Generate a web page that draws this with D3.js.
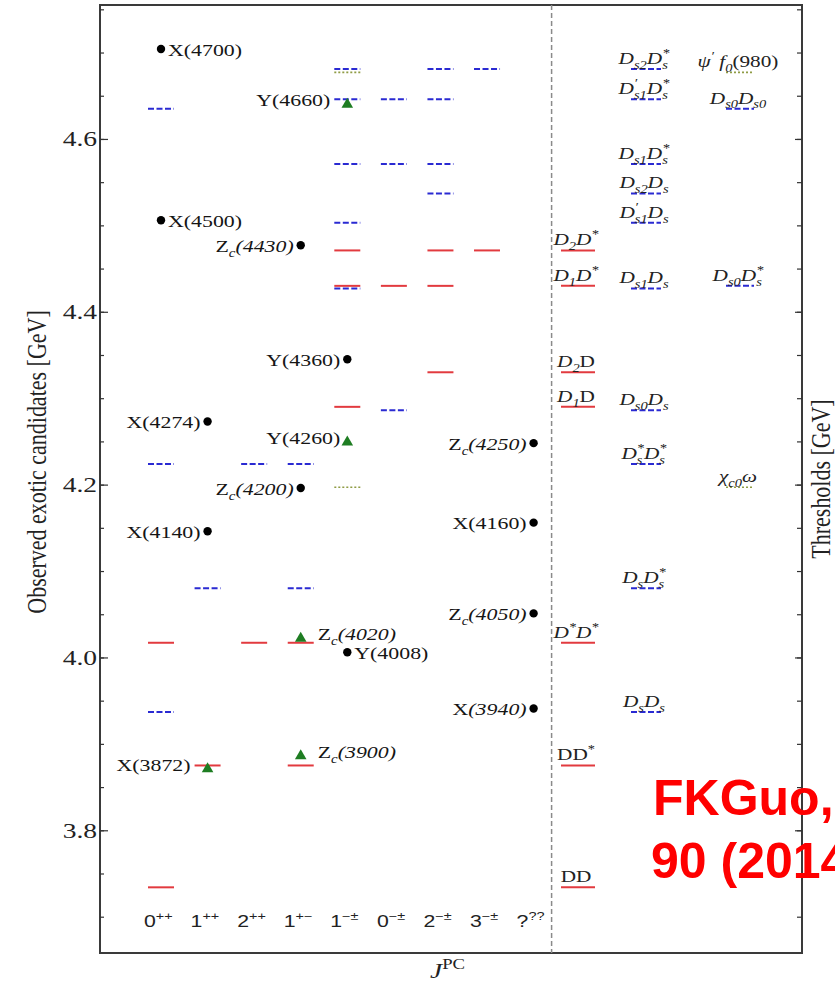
<!DOCTYPE html>
<html>
<head>
<meta charset="utf-8">
<script src="https://cdn.jsdelivr.net/npm/d3@7"></script>
<style>
  html, body { margin: 0; padding: 0; background: #fff; overflow: hidden; }
  svg { display: block; }
</style>
</head>
<body>
<svg id="chart" width="835" height="982"></svg>
<script>
// ---------- data ----------
// J^PC columns of the left panel
const jpcLabels = ["0^{++}", "1^{++}", "2^{++}", "1^{+−}", "1^{−±}", "0^{−±}", "2^{−±}", "3^{−±}", "?^{??}"];

// y axis ticks (GeV)
const yTickValues = [3.8, 4.0, 4.2, 4.4, 4.6];
const yTickLabels = ["3.8", "4.0", "4.2", "4.4", "4.6"];

// two-body thresholds
const thresholdNames = ["DD", "DD*", "DsDs", "D*D*", "DsDs*", "Ds*Ds*", "chic0w", "Ds0Ds", "D1D", "D2D",
  "Ds1Ds", "D1D*", "Ds0Ds*", "D2D*", "Ds1'Ds", "Ds2Ds", "Ds1Ds*", "Ds0Ds0", "Ds1'Ds*", "psi'f0", "Ds2Ds*"];
const thresholdMasses = [3.734, 3.875, 3.937, 4.017, 4.080, 4.224, 4.197, 4.286, 4.290, 4.330,
  4.427, 4.430, 4.430, 4.471, 4.503, 4.537, 4.571, 4.635, 4.646, 4.677, 4.681];
// markup: "/" toggles italic, _{..} subscript, ^{..} superscript
const thresholdLabels = ["DD", "DD^{*}", "/D_{s}D_{s}", "/D^{*}D^{*}", "/D_{s}D_{s}^{*}", "/D_{s}^{*}D_{s}^{*}", "/χ_{c0}ω",
  "/D_{s0}D_{s}", "/D_{1}/D", "/D_{2}/D", "/D_{s1}D_{s}", "/D_{1}D^{*}", "/D_{s0}D_{s}^{*}", "/D_{2}D^{*}",
  "/D^{′}_{s1}D_{s}", "/D_{s2}D_{s}", "/D_{s1}D_{s}^{*}", "/D_{s0}D_{s0}", "/D^{′}_{s1}D_{s}^{*}", "/ψ^{′} f_{0}/(980)", "/D_{s2}D_{s}^{*}"];
const thresholdKinds = ["D", "D", "Ds", "D", "Ds", "Ds", "X", "Ds", "D", "D",
  "Ds", "D", "Ds", "D", "Ds", "Ds", "Ds", "Ds", "Ds", "X", "Ds"];
const thresholdCols = [0, 0, 1, 0, 1, 1, 2, 1, 0, 0,
  1, 0, 2, 0, 1, 1, 1, 2, 1, 2, 1];

// thresholds shown in each J^PC column
const channels = [
  ["Ds0Ds0", "Ds*Ds*", "D*D*", "DsDs", "DD"],
  ["DsDs*", "DD*"],
  ["Ds*Ds*", "D*D*"],
  ["Ds*Ds*", "DsDs*", "D*D*", "DD*"],
  ["Ds2Ds*", "psi'f0", "Ds1'Ds*", "Ds1Ds*", "Ds1'Ds", "D2D*", "Ds1Ds", "D1D*", "D1D", "chic0w"],
  ["Ds1'Ds*", "Ds1Ds*", "D1D*", "Ds0Ds"],
  ["Ds2Ds*", "Ds1'Ds*", "Ds1Ds*", "Ds2Ds", "D2D*", "D1D*", "D2D"],
  ["Ds2Ds*", "D2D*"],
  []
];

// observed exotic candidates
const stateNames = ["X(4700)", "X(4500)", "X(4274)", "X(4140)", "X(3872)",
  "Z/_{c}(4430)", "Z/_{c}(4200)", "Z/_{c}(4020)", "Z/_{c}(3900)",
  "Y(4660)", "Y(4360)", "Y(4260)", "Y(4008)",
  "Z/_{c}(4250)", "X(4160)", "Z/_{c}(4050)", "X/(3940)"];
const stateMasses = [4.704, 4.506, 4.273, 4.146, 3.871,
  4.477, 4.196, 4.022, 3.886,
  4.640, 4.345, 4.249, 4.006,
  4.248, 4.156, 4.051, 3.941];
const stateJpc = [0, 0, 1, 1, 1, 3, 3, 3, 3, 4, 4, 4, 4, 8, 8, 8, 8];
const stateMarkers = ["dot", "dot", "dot", "dot", "tri", "dot", "dot", "tri", "tri",
  "tri", "dot", "tri", "dot", "dot", "dot", "dot", "dot"];
const stateSides = ["r", "r", "l", "l", "l", "l", "l", "r", "r", "l", "l", "l", "r", "l", "l", "l", "l"];

// ---------- setup ----------
const SERIF = '"Liberation Serif", "Times New Roman", serif';
const SANS = '"Liberation Sans", Arial, sans-serif';
const SX = 1.25;   // horizontal stretch of the figure's lettering

const svg = d3.select("#chart");
const frame = { left: 100, right: 802, top: 5, bottom: 953 };

const y = d3.scaleLinear().domain([3.658, 4.755]).range([frame.bottom, frame.top]);
const xJ = d3.scalePoint().domain(jpcLabels).range([161, 533.6]);
const xT = d3.scaleOrdinal().domain([0, 1, 2]).range([578, 646, 740]);
const colWidthT = d3.scaleOrdinal().domain([0, 1, 2]).range([34, 30, 28]);

const lineStyle = {
  D: { stroke: "#e23a3f", width: 2, dash: null },
  Ds: { stroke: "#2a2ad2", width: 2, dash: "6,2.5" },
  X: { stroke: "#8f9c45", width: 1.6, dash: "2,2" }
};

// ---------- rich text helper ----------
function parseRich(s) {
  const out = [];
  let italic = false, i = 0;
  while (i < s.length) {
    const ch = s[i];
    if (ch === "/") { italic = !italic; i++; continue; }
    if (ch === "_" || ch === "^") {
      let content;
      if (s[i + 1] === "{") { const j = s.indexOf("}", i + 2); content = s.slice(i + 2, j); i = j + 1; }
      else { content = s[i + 1]; i += 2; }
      out.push({ t: content, m: ch === "_" ? "sub" : "sup", it: italic });
      continue;
    }
    let j = i;
    while (j < s.length && !"/_^".includes(s[j])) j++;
    out.push({ t: s.slice(i, j), m: "n", it: italic });
    i = j;
  }
  return out;
}

function richText(parent, s, x, yy, o) {
  const size = o.size;
  const t = parent.append("text")
    .attr("transform", `translate(${x},${yy}) scale(${SX},1)`)
    .attr("font-family", o.family || SERIF)
    .attr("font-size", size)
    .attr("text-anchor", o.anchor || "start")
    .attr("fill", o.fill || "#151515");
  let cur = 0, prev = null, prevNode = null;
  parseRich(s).forEach(tk => {
    const off = tk.m === "sub" ? 0.28 * size : tk.m === "sup" ? -0.42 * size : 0;
    const ts = t.append("tspan")
      .attr("dy", off - cur)
      .attr("font-style", tk.it ? "italic" : "normal")
      .text(tk.t);
    if (tk.m !== "n") ts.attr("font-size", size * 0.68);
    if (prev && prev.m !== "n" && tk.m !== "n" && prev.m !== tk.m) {
      ts.attr("dx", -prevNode.getComputedTextLength());
    }
    cur = off; prev = tk; prevNode = ts.node();
  });
  return t;
}

function drawLevel(g, x1, x2, m, kind) {
  const st = lineStyle[kind];
  g.append("line")
    .attr("x1", x1).attr("x2", x2)
    .attr("y1", y(m)).attr("y2", y(m))
    .attr("stroke", st.stroke)
    .attr("stroke-width", st.width)
    .attr("stroke-dasharray", st.dash);
}

// ---------- frame & axes ----------
svg.append("rect")
  .attr("x", frame.left).attr("y", frame.top)
  .attr("width", frame.right - frame.left).attr("height", frame.bottom - frame.top)
  .attr("fill", "none").attr("stroke", "#3a3a3a").attr("stroke-width", 2);

const minorTicks = d3.range(3.70, 4.76, 0.05).map(v => +v.toFixed(2));

const axL = svg.append("g").attr("transform", `translate(${frame.left},0)`);
axL.append("g").call(d3.axisLeft(y).tickValues(minorTicks).tickSize(-4).tickFormat(""));
const axLMajor = axL.append("g").call(
  d3.axisLeft(y).tickValues(yTickValues).tickSize(-8).tickPadding(3)
    .tickFormat((d, i) => yTickLabels[i]));
axLMajor.selectAll("text")
  .attr("font-family", SERIF).attr("font-size", 22).attr("fill", "#222")
  .attr("x", -3 / SX).attr("transform", `scale(${SX},1)`);

const axR = svg.append("g").attr("transform", `translate(${frame.right},0)`);
axR.append("g").call(d3.axisRight(y).tickValues(minorTicks).tickSize(-5).tickFormat(""));
axR.append("g").call(d3.axisRight(y).tickValues(yTickValues).tickSize(-7).tickFormat(""));

svg.selectAll(".domain").remove();
svg.selectAll(".tick line").attr("stroke", "#333").attr("stroke-width", 1.2);

// divider between the two panels
const xDiv = xJ(jpcLabels[jpcLabels.length - 1]) + 18;
svg.append("line")
  .attr("x1", xDiv).attr("x2", xDiv)
  .attr("y1", frame.top).attr("y2", frame.bottom)
  .attr("stroke", "#8a8a8a").attr("stroke-width", 1.5).attr("stroke-dasharray", "5,3");

// ---------- threshold levels in the J^PC columns ----------
const gLevels = svg.append("g");
const kindOrder = { Ds: 0, X: 1, D: 2 };
jpcLabels.forEach((lab, ci) => {
  const cx = xJ(lab);
  channels[ci]
    .map(k => thresholdNames.indexOf(k))
    .sort((a, b) => kindOrder[thresholdKinds[a]] - kindOrder[thresholdKinds[b]])
    .forEach(ti => drawLevel(gLevels, cx - 13, cx + 13, thresholdMasses[ti], thresholdKinds[ti]));
});

// ---------- threshold panel ----------
const gThr = svg.append("g");
thresholdNames.forEach((name, i) => {
  const col = thresholdCols[i];
  const cx = xT(col), w = colWidthT(col);
  drawLevel(gThr, cx - w / 2, cx + w / 2, thresholdMasses[i], thresholdKinds[i]);
  richText(gThr, thresholdLabels[i], cx - 2, y(thresholdMasses[i]) - 5, { size: 17, anchor: "middle", fill: "#222" });
});

// ---------- observed states ----------
const gStates = svg.append("g");
const LABEL_SIZE = 17.5;
stateNames.forEach((name, i) => {
  const ci = stateJpc[i];
  const cx = xJ(jpcLabels[ci]);
  const cy = y(stateMasses[i]);
  const isTri = stateMarkers[i] === "tri";
  if (!isTri) {
    gStates.append("circle").attr("cx", cx).attr("cy", cy).attr("r", 4.2).attr("fill", "#000");
  } else {
    gStates.append("path")
      .attr("d", d3.symbol(d3.symbolTriangle, 58)())
      .attr("transform", `translate(${cx},${cy})`)
      .attr("fill", "#1e7d22");
  }
  // keep the label clear of a level line sitting at the same height
  const onLine = channels[ci].some(k => Math.abs(thresholdMasses[thresholdNames.indexOf(k)] - stateMasses[i]) < 0.015);
  const gap = onLine ? 17 : 7;
  const left = stateSides[i] === "l";
  const baseY = cy + 0.33 * LABEL_SIZE + (isTri ? -4 : 1);
  richText(gStates, name, left ? cx - gap : cx + gap, baseY,
    { size: LABEL_SIZE, anchor: left ? "end" : "start" });
});

// ---------- category labels ----------
const gCat = svg.append("g");
jpcLabels.forEach(lab => {
  richText(gCat, lab, xJ(lab) - 17, 927, { size: 17, family: SANS, fill: "#222" });
});

// ---------- axis titles ----------
svg.append("text")
  .attr("transform", "translate(46,462) rotate(-90) scale(1,1.25)")
  .attr("text-anchor", "middle")
  .attr("font-family", SERIF).attr("font-size", 22).attr("fill", "#222")
  .text("Observed exotic candidates [GeV]");

svg.append("text")
  .attr("transform", "translate(830,479) rotate(-90) scale(1,1.25)")
  .attr("text-anchor", "middle")
  .attr("font-family", SERIF).attr("font-size", 22).attr("fill", "#222")
  .text("Thresholds [GeV]");

richText(svg, "/J/^{PC}", 430, 978, { size: 22, fill: "#222" });

// ---------- reference note ----------
const note = svg.append("g")
  .attr("font-family", SANS).attr("font-weight", "bold")
  .attr("font-size", 50).attr("fill", "#ff0000");
note.append("text").attr("x", 653).attr("y", 815).text("FKGuo,");
note.append("text").attr("x", 651).attr("y", 878).text("90 (2014)");
</script>
</body>
</html>
